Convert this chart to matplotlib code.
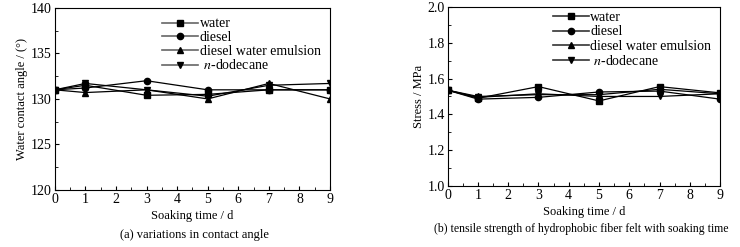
import matplotlib.pyplot as plt
import numpy as np

plt.rcParams['font.family'] = ['Liberation Serif', 'DejaVu Serif']
plt.rcParams['mathtext.fontset'] = 'stix'

days = [0, 1, 3, 5, 7, 9]
series = ['water', 'diesel', 'diesel water emulsion', ' $n$-dodecane']
markers = ['s', 'o', '^', 'v']

# (a) water contact angle, degrees
angle_water = [131.0, 131.5, 130.4, 130.5, 131.0, 131.0]
angle_diesel = [131.0, 131.2, 132.0, 131.0, 131.0, 131.0]
angle_emulsion = [131.0, 130.7, 131.0, 130.0, 131.7, 130.0]
angle_dodecane = [131.0, 131.7, 131.0, 130.3, 131.5, 131.7]

# (b) tensile stress, MPa
stress_water = [1.535, 1.490, 1.555, 1.475, 1.555, 1.520]
stress_diesel = [1.535, 1.485, 1.495, 1.525, 1.530, 1.485]
stress_emulsion = [1.535, 1.500, 1.510, 1.510, 1.540, 1.515]
stress_dodecane = [1.535, 1.495, 1.515, 1.500, 1.500, 1.515]

fig = plt.figure(figsize=(7.4, 2.47), dpi=100)
ax1 = fig.add_axes([0.074, 0.231, 0.372, 0.737])
ax2 = fig.add_axes([0.605, 0.247, 0.368, 0.725])


def draw(ax, data, ylim, yticks, yminor, ylabel, fmt, leg_anchor, leg_grey, spacing):
    for vals, name, m in zip(data, series, markers):
        ax.plot(days, vals, color='black', lw=0.9, marker=m, ms=4.5, label=name)
    ax.set_xlim(0, 9)
    ax.set_ylim(*ylim)
    ax.set_xticks(range(10))
    ax.set_xticks(np.arange(0.5, 9, 1), minor=True)
    ax.set_yticks(yticks)
    ax.set_yticks(yminor, minor=True)
    ax.set_yticklabels([fmt.format(v) for v in yticks])
    ax.tick_params(direction='in', which='both', labelsize=10, pad=2)
    ax.tick_params(which='major', length=3)
    ax.tick_params(which='minor', length=2)
    ax.set_xlabel('Soaking time / d', fontsize=9, labelpad=3)
    ax.set_ylabel(ylabel, fontsize=9, labelpad=2)
    leg = ax.legend(loc='upper left', bbox_to_anchor=leg_anchor, frameon=False,
                    fontsize=10, handlelength=2.6, labelspacing=spacing,
                    handletextpad=0.1, borderaxespad=0, borderpad=0)
    for line in leg.get_lines():
        line.set_color(leg_grey)
        line.set_linewidth(1.2)
        line.set_markerfacecolor('black')
        line.set_markeredgecolor('black')


draw(ax1, [angle_water, angle_diesel, angle_emulsion, angle_dodecane],
     (120, 140), [120, 125, 130, 135, 140], np.arange(122.5, 140, 5),
     'Water contact angle / (°)', '{:.0f}', (0.39, 0.948), '#666666', 0.05)
draw(ax2, [stress_water, stress_diesel, stress_emulsion, stress_dodecane],
     (1.0, 2.0), np.arange(1.0, 2.01, 0.2), np.arange(1.1, 2.0, 0.2),
     'Stress / MPa', '{:.1f}', (0.386, 0.977), '#333333', 0.1)

fig.text(0.263, 0.049, '(a) variations in contact angle', ha='center',
         va='center', fontsize=9)
fig.text(0.785, 0.073, '(b) tensile strength of hydrophobic fiber felt with soaking time',
         ha='center', va='center', fontsize=8.5)

fig.savefig('out.png', dpi=100)
